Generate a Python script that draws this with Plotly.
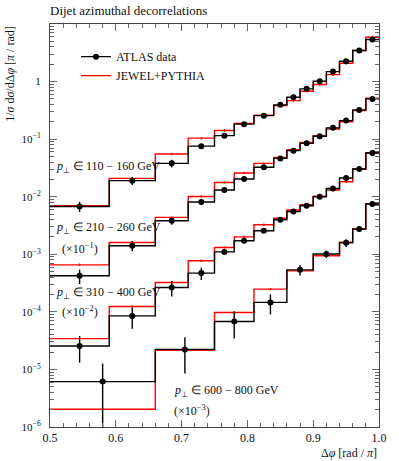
import plotly.graph_objects as go

# ---------------- data ----------------
edges_a = [0.5, 0.59, 0.66, 0.71, 0.75, 0.78, 0.81, 0.84, 0.86, 0.88, 0.90, 0.92, 0.94, 0.96, 0.98, 1.0]
edges_b = [0.5, 0.66, 0.75, 0.81, 0.86, 0.90, 0.94, 0.96, 0.98, 1.0]

pt_labels = ["110 − 160", "210 − 260", "310 − 400", "600 − 800"]
scales = [1.0, 0.1, 0.01, 0.001]

atlas_110 = [0.00678, 0.0190, 0.0380, 0.0755, 0.115, 0.182, 0.256, 0.394, 0.533, 0.747, 1.01, 1.49, 2.25, 3.46, 5.37]
jewel_110 = [0.00697, 0.0208, 0.0553, 0.104, 0.141, 0.188, 0.261, 0.383, 0.467, 0.678, 0.887, 1.32, 2.08, 3.46, 5.89]
relerr_110 = [0.2, 0.16, 0.15, 0.08, 0.06, 0.05, 0.05, 0.04, 0.04, 0.04, 0.04, 0.04, 0.04, 0.04, 0.04]

atlas_210 = [0.00423, 0.0141, 0.0383, 0.0809, 0.131, 0.203, 0.324, 0.463, 0.631, 0.845, 1.12, 1.57, 2.10, 3.22, 5.00]
jewel_210 = [0.00656, 0.0160, 0.0437, 0.101, 0.177, 0.258, 0.379, 0.482, 0.656, 0.879, 1.15, 1.50, 2.01, 3.13, 5.13]
relerr_210 = [0.28, 0.2, 0.15, 0.1, 0.07, 0.06, 0.05, 0.05, 0.05, 0.05, 0.04, 0.04, 0.04, 0.04, 0.04]

atlas_310 = [0.00256, 0.00851, 0.0265, 0.0471, 0.110, 0.172, 0.256, 0.398, 0.555, 0.697, 1.00, 1.39, 2.11, 3.03, 5.75]
jewel_310 = [0.00343, 0.0124, 0.0324, 0.0771, 0.131, 0.201, 0.326, 0.423, 0.587, 0.726, 1.02, 1.31, 1.82, 3.03, 5.82]
relerr_310 = [0.49, 0.4, 0.3, 0.24, 0.1, 0.08, 0.08, 0.06, 0.06, 0.06, 0.05, 0.05, 0.05, 0.05, 0.05]

atlas_600 = [0.00614, 0.0223, 0.0678, 0.146, 0.537, 1.01, 1.58, 2.74, 7.46]
jewel_600 = [0.00203, 0.0214, 0.0973, 0.248, 0.516, 0.942, 1.62, 2.77, 7.55]
relerr_600 = [1.06, 0.62, 0.49, 0.38, 0.2, 0.15, 0.15, 0.1, 0.08]

jewel_relerr = 0.05

series = [
    (edges_a, atlas_110, jewel_110, relerr_110),
    (edges_a, atlas_210, jewel_210, relerr_210),
    (edges_a, atlas_310, jewel_310, relerr_310),
    (edges_b, atlas_600, jewel_600, relerr_600),
]

ytick_vals = [1e-6, 1e-5, 1e-4, 1e-3, 1e-2, 1e-1, 1]
ytick_text = ["10<sup>−6</sup>", "10<sup>−5</sup>", "10<sup>−4</sup>", "10<sup>−3</sup>",
              "10<sup>−2</sup>", "10<sup>−1</sup>", "1"]
xtick_vals = [0.5, 0.6, 0.7, 0.8, 0.9, 1.0]
xtick_text = ["0.5", "0.6", "0.7", "0.8", "0.9", "1.0"]

FONT = "Liberation Serif"
RED = "#ff0000"
BLACK = "#000000"
TXT = "#111111"

fig = go.Figure()

# red first, then black on top
for k, (edges, atlas, jewel, rel) in enumerate(series):
    s = scales[k]
    centers = [(edges[i] + edges[i + 1]) / 2 for i in range(len(edges) - 1)]
    jy = [v * s for v in jewel]
    fig.add_trace(go.Scatter(x=edges, y=jy + [jy[-1]], mode="lines", line=dict(color=RED, width=1.4, shape="hv"),
                             showlegend=False, hoverinfo="skip"))
    fig.add_trace(go.Scatter(x=centers, y=jy, mode="markers", marker=dict(size=1, color=RED),
                             error_y=dict(type="data", array=[v * jewel_relerr for v in jy], color=RED,
                                          thickness=1.2, width=0),
                             showlegend=False, hoverinfo="skip"))

for k, (edges, atlas, jewel, rel) in enumerate(series):
    s = scales[k]
    centers = [(edges[i] + edges[i + 1]) / 2 for i in range(len(edges) - 1)]
    ay = [v * s for v in atlas]
    fig.add_trace(go.Scatter(x=edges, y=ay + [ay[-1]], mode="lines", line=dict(color=BLACK, width=1.4, shape="hv"),
                             showlegend=False, hoverinfo="skip"))
    fig.add_trace(go.Scatter(x=centers, y=ay, mode="markers", marker=dict(size=6, color=BLACK),
                             error_y=dict(type="data", array=[v * e for v, e in zip(ay, rel)], color=BLACK,
                                          thickness=1.4, width=0),
                             showlegend=False, hoverinfo="skip"))

# legend entries
fig.add_trace(go.Scatter(x=[None], y=[None], mode="lines+markers", name="ATLAS data",
                         line=dict(color=BLACK, width=1.4), marker=dict(size=6, color=BLACK)))
fig.add_trace(go.Scatter(x=[None], y=[None], mode="lines", name="JEWEL+PYTHIA",
                         line=dict(color=RED, width=1.4)))

minor_y = [m * 10 ** e for e in range(-6, 1) for m in range(2, 10)]

fig.update_layout(
    width=399, height=461,
    margin=dict(l=50, r=13, t=24, b=34),
    paper_bgcolor="white", plot_bgcolor="white",
    font=dict(family=FONT, size=12, color=TXT),
    title=dict(text="Dijet azimuthal decorrelations", xref="paper", x=0, xanchor="left",
               yref="container", y=1 - 10 / 461, yanchor="middle",
               font=dict(family=FONT, size=13, color=TXT)),
    showlegend=True,
    hovermode=False,
    legend=dict(x=0.079, y=0.955, xanchor="left", yanchor="top", bgcolor="rgba(0,0,0,0)",
                font=dict(family=FONT, size=12, color=TXT), tracegroupgap=0),
    xaxis=dict(range=[0.5, 1.0], tickvals=xtick_vals, ticktext=xtick_text, ticks="inside", ticklen=7,
               tickcolor="#666", tickwidth=1, mirror="ticks", showline=True, linecolor="#444", linewidth=1,
               showgrid=False, zeroline=False, tickfont=dict(family=FONT, size=12, color=TXT),
               minor=dict(dtick=0.02, tick0=0.5, ticks="inside", ticklen=4, tickcolor="#666", showgrid=False)),
    yaxis=dict(type="log", range=[-6, 1], tickvals=ytick_vals, ticktext=ytick_text, ticks="inside", ticklen=7,
               tickcolor="#666", tickwidth=1, mirror="ticks", showline=True, linecolor="#444", linewidth=1,
               showgrid=False, zeroline=False, tickfont=dict(family=FONT, size=11, color=TXT), ticklabelstandoff=6,
               minor=dict(tickvals=minor_y, ticks="inside", ticklen=4, tickcolor="#666", showgrid=False)),
)

def px_x(px):
    return (px - 50) / 336.0

def px_y(py):
    return (427 - py) / 403.0

ann = [
    dict(text="<i>p</i><sub>⊥</sub> ∈ %s GeV" % pt_labels[0], x=px_x(54), y=px_y(167), xanchor="left", yanchor="middle", size=12),
    dict(text="<i>p</i><sub>⊥</sub> ∈ %s GeV" % pt_labels[1], x=px_x(54), y=px_y(228), xanchor="left", yanchor="middle", size=12),
    dict(text="(×10<sup>−1</sup>)", x=px_x(60), y=px_y(248), xanchor="left", yanchor="middle", size=12),
    dict(text="<i>p</i><sub>⊥</sub> ∈ %s GeV" % pt_labels[2], x=px_x(54), y=px_y(293), xanchor="left", yanchor="middle", size=12),
    dict(text="(×10<sup>−2</sup>)", x=px_x(60), y=px_y(311), xanchor="left", yanchor="middle", size=12),
    dict(text="<i>p</i><sub>⊥</sub> ∈ %s GeV" % pt_labels[3], x=px_x(175), y=px_y(391), xanchor="left", yanchor="middle", size=12),
    dict(text="(×10<sup>−3</sup>)", x=px_x(175), y=px_y(410), xanchor="left", yanchor="middle", size=12),
    dict(text="Δ<i>φ</i> [rad / <i>π</i>]", x=px_x(386), y=px_y(453), xanchor="right", yanchor="middle", size=12),
]
for a in ann:
    fig.add_annotation(text=a["text"], x=a["x"], y=a["y"], xref="paper", yref="paper",
                       xanchor=a["xanchor"], yanchor=a["yanchor"], showarrow=False,
                       font=dict(family=FONT, size=a["size"], color=TXT))

fig.add_annotation(text="1/<i>σ</i> d<i>σ</i>/dΔ<i>φ</i> [<i>π</i> / rad]", x=px_x(9), y=px_y(24),
                   xref="paper", yref="paper", xanchor="center", yanchor="top", textangle=-90,
                   showarrow=False, font=dict(family=FONT, size=12, color=TXT))

fig.write_html("out.html", config={"displayModeBar": False, "staticPlot": True})

# remove the browser's default page margin so the figure sits at (0, 0)
with open("out.html", "r", encoding="utf-8") as f:
    html = f.read()
html = html.replace("<head>", "<head><style>html,body{margin:0;padding:0;overflow:hidden;}</style>", 1)
with open("out.html", "w", encoding="utf-8") as f:
    f.write(html)
